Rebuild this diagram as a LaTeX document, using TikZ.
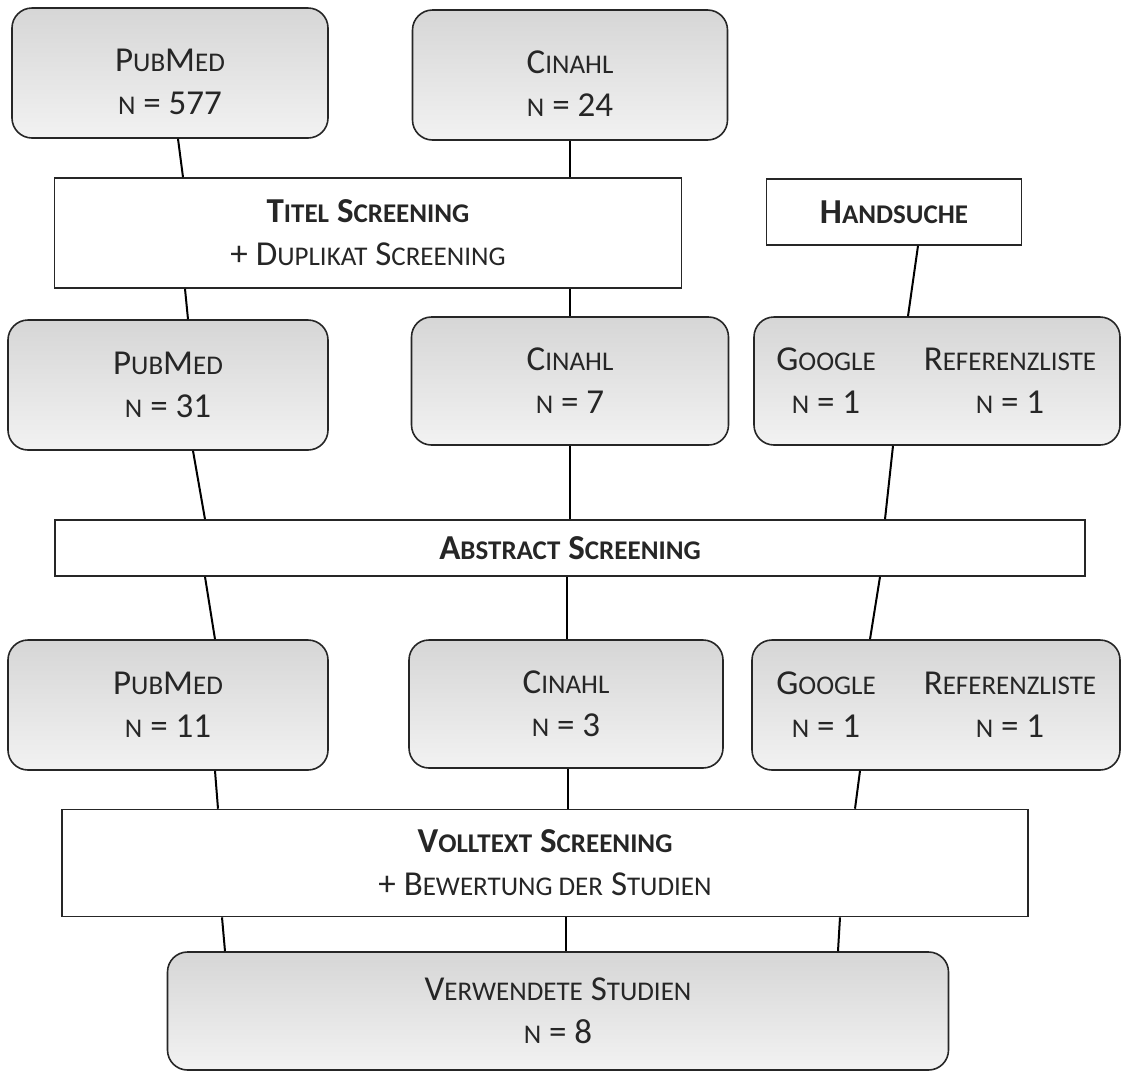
\documentclass[tikz,border=0pt]{standalone}
\usepackage{fontspec}
\setmainfont{Carlito}
\definecolor{boxtop}{HTML}{D6D6D6}
\definecolor{boxbot}{HTML}{F2F2F2}
\definecolor{schrift}{HTML}{262626}
\newcommand\kl[1]{{\fontsize{27}{43}\selectfont #1}}
\begin{document}
\begin{tikzpicture}[x=1pt, y=-1pt,
		every node/.style={font=\fontsize{35}{43}\selectfont, text=schrift, align=center, inner sep=0pt},
		quelle/.style={draw=black!85, line width=1.6pt, rounded corners=20pt, top color=boxtop, bottom color=boxbot},
		filter/.style={draw=black!85, line width=1.6pt, fill=white},
		linie/.style={line width=2pt, black}]
		\useasboundingbox (0, 0) rectangle (1121, 1077);

		% Datenbanken
		\node[quelle, minimum width=316, minimum height=130] (pub1) at (170, 73) {\rule{0pt}{40pt}P\kl{UB}M\kl{ED}\\\kl{N} = 577};
		\node[quelle, minimum width=315, minimum height=130] (cin1) at (570, 75) {\rule{0pt}{40pt}C\kl{INAHL}\\\kl{N} = 24};

		% Titel Screening und Handsuche
		\node[filter, minimum width=627, minimum height=110] (titel) at (368, 233) {\textbf{T\kl{ITEL} S\kl{CREENING}}\\+ D\kl{UPLIKAT} S\kl{CREENING}};
		\node[filter, minimum width=255, minimum height=66] (hand) at (894, 212) {\textbf{H\kl{ANDSUCHE}}};

		% nach Titel Screening
		\node[quelle, minimum width=320, minimum height=130] (pub2) at (168, 385) {P\kl{UB}M\kl{ED}\\\kl{N} = 31};
		\node[quelle, minimum width=317, minimum height=128] (cin2) at (570, 381) {C\kl{INAHL}\\\kl{N} = 7};
		\node[quelle, minimum width=366, minimum height=128] (hs2) at (937, 381) {};
		\node (goo2) at (826, 381) {G\kl{OOGLE}\\\kl{N} = 1};
		\node (ref2) at (1010, 381) {R\kl{EFERENZLISTE}\\\kl{N} = 1};

		% Abstract Screening
		\node[filter, minimum width=1030, minimum height=56] (abs) at (570, 548) {\textbf{A\kl{BSTRACT} S\kl{CREENING}}};

		% nach Abstract Screening
		\node[quelle, minimum width=320, minimum height=130] (pub3) at (168, 705) {P\kl{UB}M\kl{ED}\\\kl{N} = 11};
		\node[quelle, minimum width=314, minimum height=128] (cin3) at (566, 704) {C\kl{INAHL}\\\kl{N} = 3};
		\node[quelle, minimum width=368, minimum height=130] (hs3) at (936, 705) {};
		\node (goo3) at (826, 705) {G\kl{OOGLE}\\\kl{N} = 1};
		\node (ref3) at (1010, 705) {R\kl{EFERENZLISTE}\\\kl{N} = 1};

		% Volltext Screening und Ergebnis
		\node[filter, minimum width=966, minimum height=107] (voll) at (545, 863) {\textbf{V\kl{OLLTEXT} S\kl{CREENING}}\\+ B\kl{EWERTUNG DER} S\kl{TUDIEN}};
		\node[quelle, minimum width=781, minimum height=118] (verw) at (558, 1011) {V\kl{ERWENDETE} S\kl{TUDIEN}\\\kl{N} = 8};

		% Verbindungen
		\draw[linie] ([xshift=8]pub1.south) -- ([xshift=-185]titel.north);
		\draw[linie] (cin1.south) -- ([xshift=202]titel.north);
		\draw[linie] ([xshift=-183]titel.south) -- ([xshift=20]pub2.north);
		\draw[linie] ([xshift=202]titel.south) -- (cin2.north);
		\draw[linie] ([xshift=24]hand.south) -- ([xshift=-29]hs2.north);

		\draw[linie] ([xshift=25]pub2.south) -- ([xshift=-365]abs.north);
		\draw[linie] (cin2.south) -- (abs.north);
		\draw[linie] ([xshift=-44]hs2.south) -- ([xshift=315]abs.north);

		\draw[linie] ([xshift=-365]abs.south) -- ([xshift=47]pub3.north);
		\draw[linie] ([xshift=-3]abs.south) -- ([xshift=1]cin3.north);
		\draw[linie] ([xshift=310]abs.south) -- ([xshift=-66]hs3.north);

		\draw[linie] ([xshift=47]pub3.south) -- ([xshift=-327]voll.north);
		\draw[linie] ([xshift=2]cin3.south) -- ([xshift=23]voll.north);
		\draw[linie] ([xshift=-76]hs3.south) -- ([xshift=310]voll.north);

		\draw[linie] ([xshift=-323]voll.south) -- ([xshift=-333]verw.north);
		\draw[linie] ([xshift=21]voll.south) -- ([xshift=8]verw.north);
		\draw[linie] ([xshift=295]voll.south) -- ([xshift=280]verw.north);
\end{tikzpicture}
\end{document}
